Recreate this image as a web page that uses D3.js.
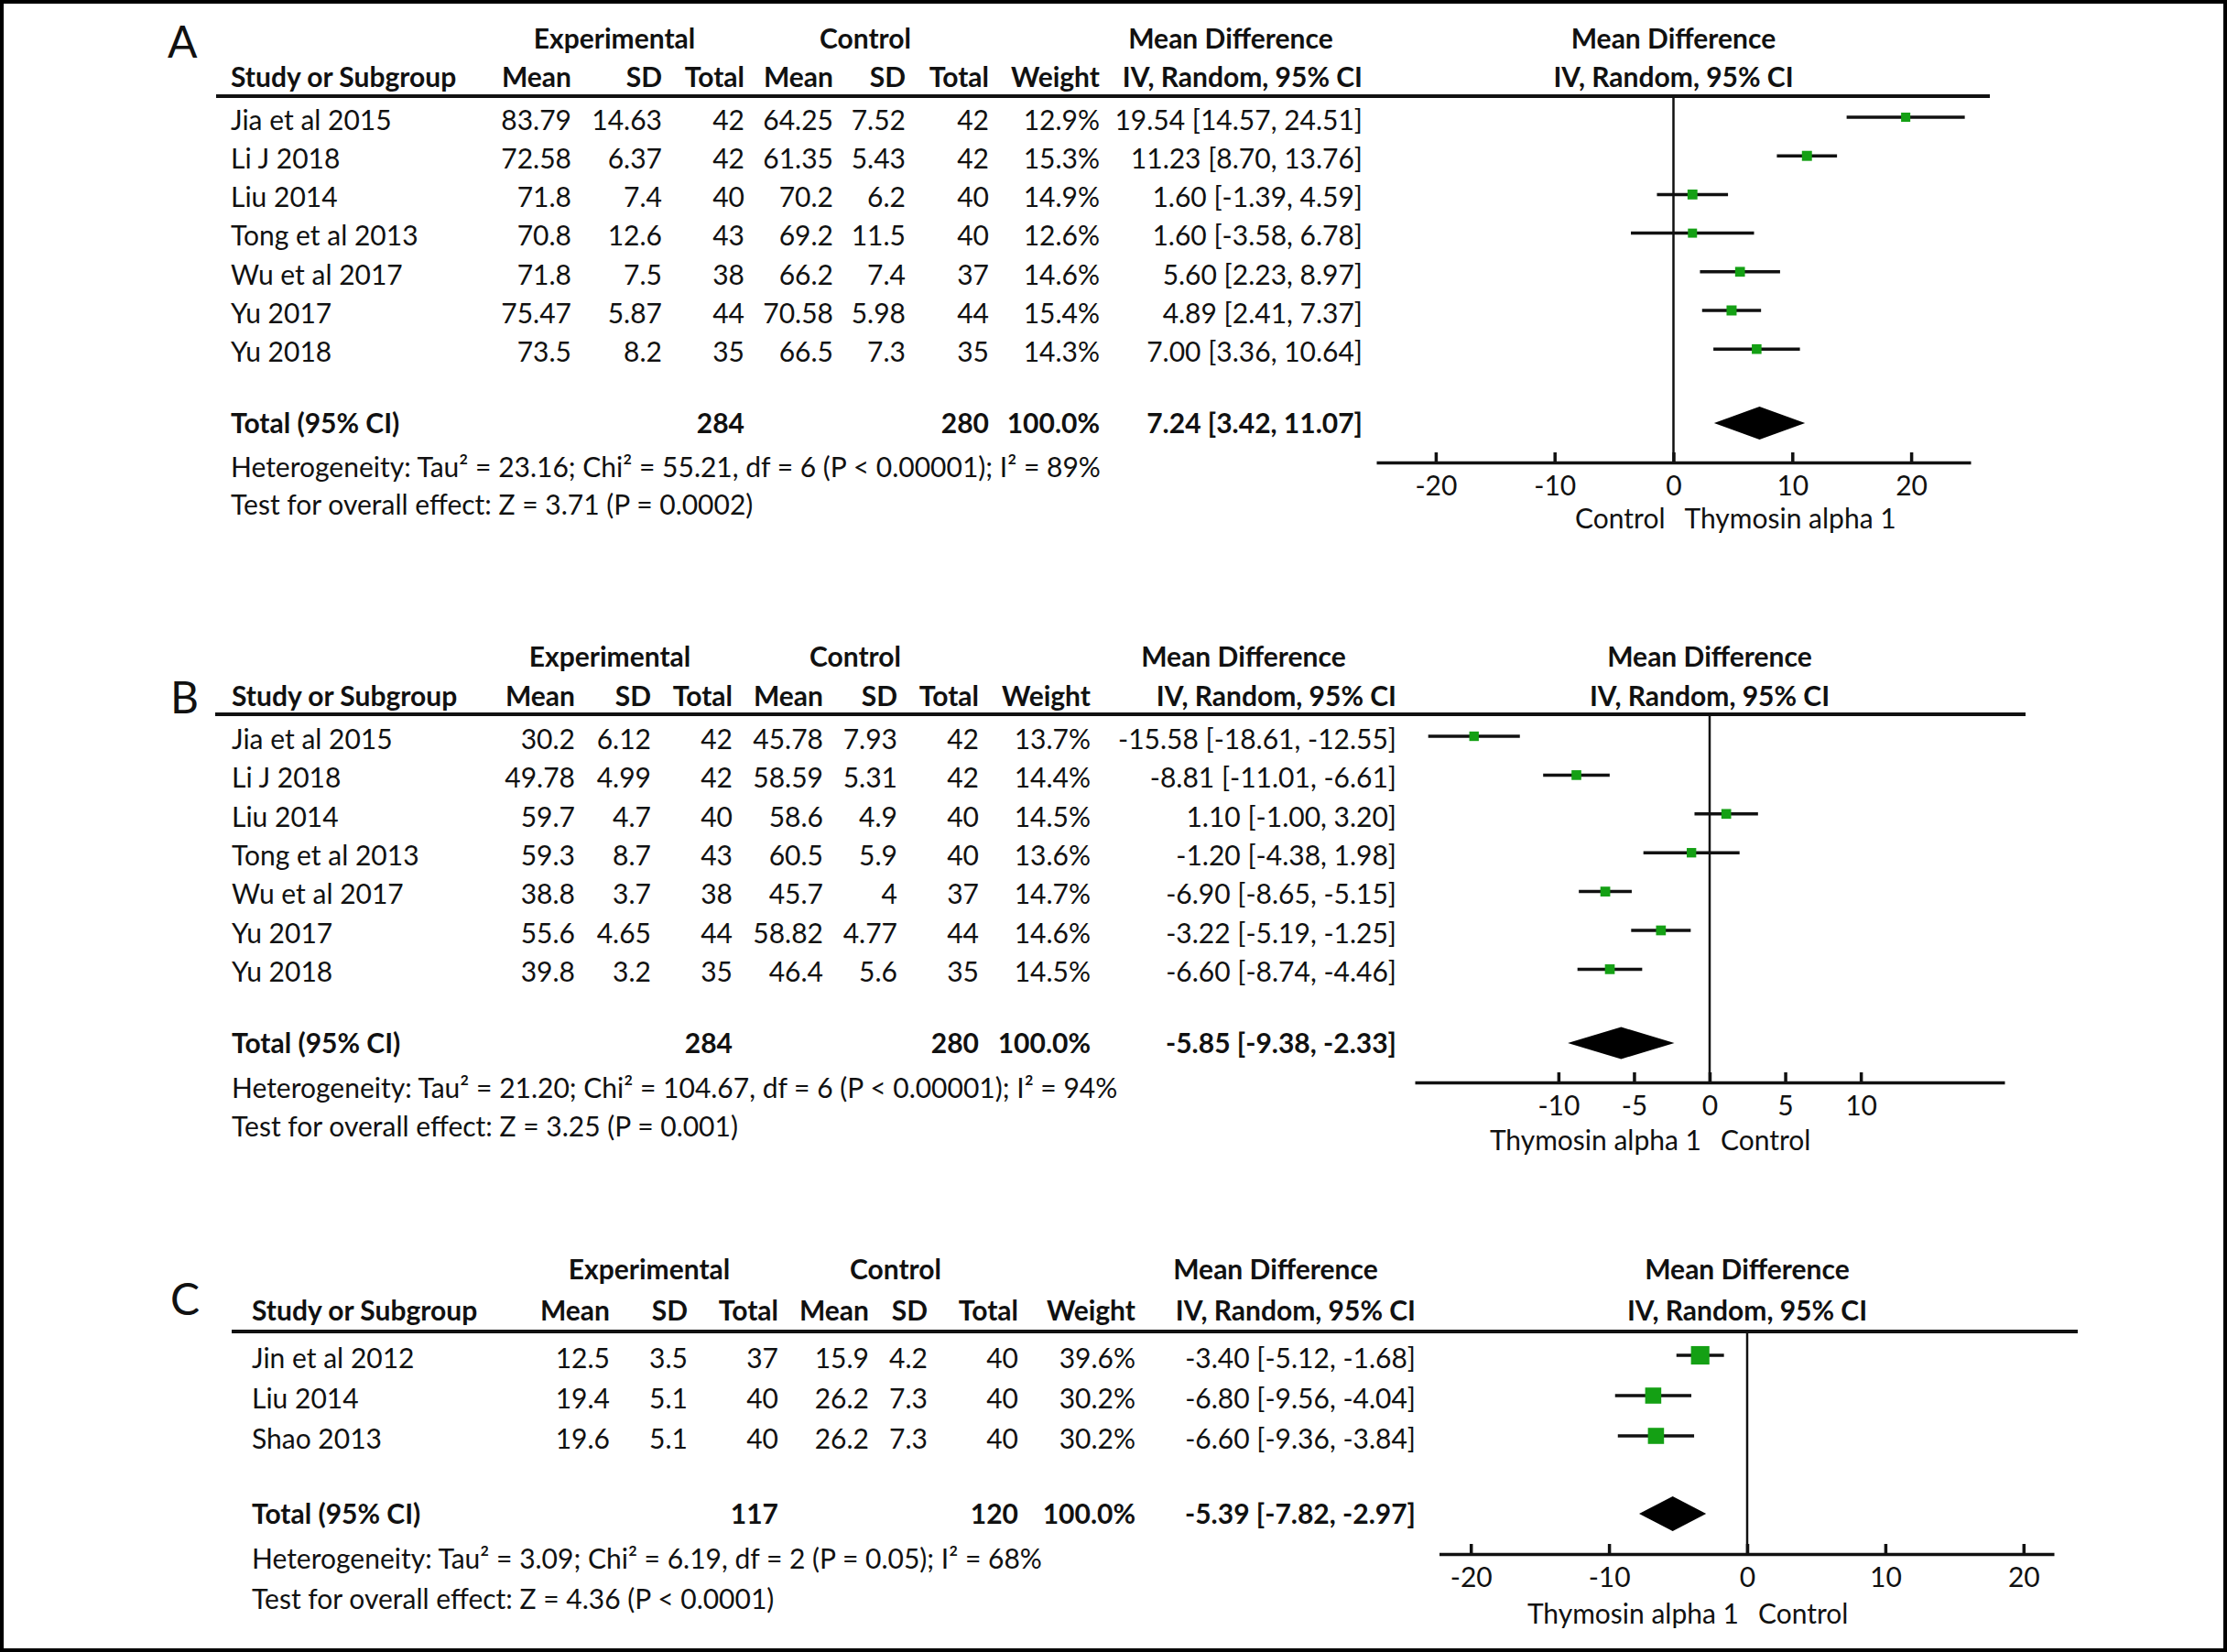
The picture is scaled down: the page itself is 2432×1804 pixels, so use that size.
<!DOCTYPE html>
<html>
<head>
<meta charset="utf-8">
<script src="https://cdn.jsdelivr.net/npm/d3@7"></script>
<style>
  body { margin: 0; background: #fff; }
  svg { display: block; }
  text { font-family: Lato, "Open Sans", sans-serif; fill: #111; }
  .bold { font-weight: bold; }
</style>
</head>
<body>
<svg id="chart"></svg>
<script>
// ---- panel A data
var studyA = ['Jia et al 2015', 'Li J 2018', 'Liu 2014', 'Tong et al 2013', 'Wu et al 2017', 'Yu 2017', 'Yu 2018']
var expMeanA = [83.79, 72.58, 71.8, 70.8, 71.8, 75.47, 73.5]
var expSdA = [14.63, 6.37, 7.4, 12.6, 7.5, 5.87, 8.2]
var expNA = [42, 42, 40, 43, 38, 44, 35]
var ctlMeanA = [64.25, 61.35, 70.2, 69.2, 66.2, 70.58, 66.5]
var ctlSdA = [7.52, 5.43, 6.2, 11.5, 7.4, 5.98, 7.3]
var ctlNA = [42, 42, 40, 40, 37, 44, 35]
var weightA = [12.9, 15.3, 14.9, 12.6, 14.6, 15.4, 14.3]
var mdA = [19.54, 11.23, 1.6, 1.6, 5.6, 4.89, 7.0]
var loA = [14.57, 8.7, -1.39, -3.58, 2.23, 2.41, 3.36]
var hiA = [24.51, 13.76, 4.59, 6.78, 8.97, 7.37, 10.64]
var pooledA = [7.24, 3.42, 11.07]
var totalNA = [284, 280]
var ticksA = [-20, -10, 0, 10, 20]
var hetA = 'Heterogeneity: Tau² = 23.16; Chi² = 55.21, df = 6 (P < 0.00001); I² = 89%'
var testA = 'Test for overall effect: Z = 3.71 (P = 0.0002)'
var favourA = ['Control', 'Thymosin alpha 1']

// ---- panel B data
var studyB = ['Jia et al 2015', 'Li J 2018', 'Liu 2014', 'Tong et al 2013', 'Wu et al 2017', 'Yu 2017', 'Yu 2018']
var expMeanB = [30.2, 49.78, 59.7, 59.3, 38.8, 55.6, 39.8]
var expSdB = [6.12, 4.99, 4.7, 8.7, 3.7, 4.65, 3.2]
var expNB = [42, 42, 40, 43, 38, 44, 35]
var ctlMeanB = [45.78, 58.59, 58.6, 60.5, 45.7, 58.82, 46.4]
var ctlSdB = [7.93, 5.31, 4.9, 5.9, 4, 4.77, 5.6]
var ctlNB = [42, 42, 40, 40, 37, 44, 35]
var weightB = [13.7, 14.4, 14.5, 13.6, 14.7, 14.6, 14.5]
var mdB = [-15.58, -8.81, 1.1, -1.2, -6.9, -3.22, -6.6]
var loB = [-18.61, -11.01, -1.0, -4.38, -8.65, -5.19, -8.74]
var hiB = [-12.55, -6.61, 3.2, 1.98, -5.15, -1.25, -4.46]
var pooledB = [-5.85, -9.38, -2.33]
var totalNB = [284, 280]
var ticksB = [-10, -5, 0, 5, 10]
var hetB = 'Heterogeneity: Tau² = 21.20; Chi² = 104.67, df = 6 (P < 0.00001); I² = 94%'
var testB = 'Test for overall effect: Z = 3.25 (P = 0.001)'
var favourB = ['Thymosin alpha 1', 'Control']

// ---- panel C data
var studyC = ['Jin et al 2012', 'Liu 2014', 'Shao 2013']
var expMeanC = [12.5, 19.4, 19.6]
var expSdC = [3.5, 5.1, 5.1]
var expNC = [37, 40, 40]
var ctlMeanC = [15.9, 26.2, 26.2]
var ctlSdC = [4.2, 7.3, 7.3]
var ctlNC = [40, 40, 40]
var weightC = [39.6, 30.2, 30.2]
var mdC = [-3.4, -6.8, -6.6]
var loC = [-5.12, -9.56, -9.36]
var hiC = [-1.68, -4.04, -3.84]
var pooledC = [-5.39, -7.82, -2.97]
var totalNC = [117, 120]
var ticksC = [-20, -10, 0, 10, 20]
var hetC = 'Heterogeneity: Tau² = 3.09; Chi² = 6.19, df = 2 (P = 0.05); I² = 68%'
var testC = 'Test for overall effect: Z = 4.36 (P < 0.0001)'
var favourC = ['Thymosin alpha 1', 'Control']

var W = 2432
var H = 1804
var FS = 30

var svg = d3.select('#chart').attr('width', W).attr('height', H)

// frame round the whole figure
svg.append('rect')
  .attr('x', 2).attr('y', 2).attr('width', W - 4).attr('height', H - 4)
  .attr('fill', 'none').attr('stroke', '#000').attr('stroke-width', 4)

function txt(g, x, y, s, anchor, bold) {
  return g.append('text')
    .attr('x', x).attr('y', y).attr('dy', '0.36em')
    .attr('text-anchor', anchor || 'start')
    .attr('class', bold ? 'bold' : null)
    .style('font-size', FS + 'px')
    .text(s)
}

function ci(m, l, h) {
  return m.toFixed(2) + ' [' + l.toFixed(2) + ', ' + h.toFixed(2) + ']'
}

function drawPanel(p, d) {
  var g = svg.append('g')

  // panel letter
  g.append('text').attr('x', p.label[0]).attr('y', p.label[1])
    .style('font-size', '48px').text(p.letter)

  // group headers
  txt(g, p.hdr[0], p.topY, 'Experimental', 'middle', true)
  txt(g, p.hdr[1], p.topY, 'Control', 'middle', true)
  txt(g, p.hdr[2], p.topY, 'Mean Difference', 'middle', true)

  var c = p.cols
  txt(g, c[0], p.colY, 'Study or Subgroup', 'start', true)
  var heads = ['Mean', 'SD', 'Total', 'Mean', 'SD', 'Total', 'Weight', 'IV, Random, 95% CI']
  heads.forEach(function(h, i) { txt(g, c[i + 1], p.colY, h, 'end', true) })

  // rule under header
  g.append('line')
    .attr('x1', p.rule[0]).attr('x2', p.rule[1])
    .attr('y1', p.ruleY).attr('y2', p.ruleY)
    .attr('stroke', '#111').attr('stroke-width', 4)

  var yRow = function(i) { return p.rowY + i * p.rowStep }

  d.study.forEach(function(s, i) {
    var y = yRow(i)
    txt(g, c[0], y, s)
    txt(g, c[1], y, String(d.expMean[i]), 'end')
    txt(g, c[2], y, String(d.expSd[i]), 'end')
    txt(g, c[3], y, String(d.expN[i]), 'end')
    txt(g, c[4], y, String(d.ctlMean[i]), 'end')
    txt(g, c[5], y, String(d.ctlSd[i]), 'end')
    txt(g, c[6], y, String(d.ctlN[i]), 'end')
    txt(g, c[7], y, d.weight[i].toFixed(1) + '%', 'end')
    txt(g, c[8], y, ci(d.md[i], d.lo[i], d.hi[i]), 'end')
  })

  txt(g, c[0], p.totalY, 'Total (95% CI)', 'start', true)
  txt(g, c[3], p.totalY, String(d.totalN[0]), 'end', true)
  txt(g, c[6], p.totalY, String(d.totalN[1]), 'end', true)
  txt(g, c[7], p.totalY, '100.0%', 'end', true)
  txt(g, c[8], p.totalY, ci(d.pooled[0], d.pooled[1], d.pooled[2]), 'end', true)

  txt(g, c[0], p.hetY, d.het)
  txt(g, c[0], p.testY, d.test)

  // forest plot
  var x = d3.scaleLinear().domain(p.domain).range(p.range)
  var x0 = x(0)

  txt(g, x0, p.topY, 'Mean Difference', 'middle', true)
  txt(g, x0, p.colY, 'IV, Random, 95% CI', 'middle', true)

  g.append('line')
    .attr('x1', x0).attr('x2', x0)
    .attr('y1', p.ruleY).attr('y2', p.axisY)
    .attr('stroke', '#111').attr('stroke-width', 2.5)

  var rows = g.selectAll('.study').data(d.study).enter().append('g')
  rows.append('line')
    .attr('x1', function(s, i) { return x(d.lo[i]) })
    .attr('x2', function(s, i) { return x(d.hi[i]) })
    .attr('y1', function(s, i) { return yRow(i) - 3 })
    .attr('y2', function(s, i) { return yRow(i) - 3 })
    .attr('stroke', '#111').attr('stroke-width', 3.5)
  rows.append('rect')
    .attr('x', function(s, i) { return x(d.md[i]) - p.box * Math.sqrt(d.weight[i]) / 2 })
    .attr('y', function(s, i) { return yRow(i) - 3 - p.box * Math.sqrt(d.weight[i]) / 2 })
    .attr('width', function(s, i) { return p.box * Math.sqrt(d.weight[i]) })
    .attr('height', function(s, i) { return p.box * Math.sqrt(d.weight[i]) })
    .attr('fill', '#14a014')

  var pd = d.pooled
  var hh = p.diamond / 2
  g.append('polygon')
    .attr('points', [
      [x(pd[1]), p.totalY], [x(pd[0]), p.totalY - hh],
      [x(pd[2]), p.totalY], [x(pd[0]), p.totalY + hh]
    ].join(' '))
    .attr('fill', '#000')

  var axis = d3.axisBottom(x)
    .tickValues(d.ticks)
    .tickSize(-11)
    .tickSizeOuter(0)
    .tickPadding(15)
    .tickFormat(function(v) { return String(v) })
  var ax = g.append('g')
    .attr('transform', 'translate(0,' + p.axisY + ')')
    .call(axis)
  ax.select('.domain').attr('stroke', '#111').attr('stroke-width', 3.5)
  ax.selectAll('.tick line').attr('stroke', '#111').attr('stroke-width', 3.5)
  ax.selectAll('.tick text')
    .style('font-size', FS + 'px').style('font-family', 'Lato, sans-serif').attr('fill', '#111')

  txt(g, x0 - 9, p.favY, d.favour[0], 'end')
  txt(g, x0 + 12, p.favY, d.favour[1], 'start')
}

drawPanel({
  letter: 'A', label: [183, 63],
  topY: 42, colY: 84, ruleY: 105, rule: [236, 2173],
  rowY: 131, rowStep: 42.2, totalY: 462, hetY: 510, testY: 551,
  hdr: [671, 945, 1344],
  cols: [252, 624, 723, 813, 910, 989, 1080, 1201, 1488],
  domain: [-25, 25], range: [1503, 2152], axisY: 505, favY: 566,
  box: 2.8, diamond: 36
}, {
  study: studyA, expMean: expMeanA, expSd: expSdA, expN: expNA,
  ctlMean: ctlMeanA, ctlSd: ctlSdA, ctlN: ctlNA, weight: weightA,
  md: mdA, lo: loA, hi: hiA, pooled: pooledA, totalN: totalNA,
  ticks: ticksA, het: hetA, test: testA, favour: favourA
})

drawPanel({
  letter: 'B', label: [186, 779],
  topY: 717, colY: 760, ruleY: 780, rule: [235, 2212],
  rowY: 807, rowStep: 42.4, totalY: 1139, hetY: 1188, testY: 1230,
  hdr: [666, 934, 1358],
  cols: [253, 628, 711, 800, 899, 980, 1069, 1191, 1525],
  domain: [-19.5, 19.5], range: [1545, 2189], axisY: 1182, favY: 1245,
  box: 2.8, diamond: 35
}, {
  study: studyB, expMean: expMeanB, expSd: expSdB, expN: expNB,
  ctlMean: ctlMeanB, ctlSd: ctlSdB, ctlN: ctlNB, weight: weightB,
  md: mdB, lo: loB, hi: hiB, pooled: pooledB, totalN: totalNB,
  ticks: ticksB, het: hetB, test: testB, favour: favourB
})

drawPanel({
  letter: 'C', label: [186, 1436],
  topY: 1386, colY: 1431, ruleY: 1454, rule: [253, 2269],
  rowY: 1483, rowStep: 44, totalY: 1653, hetY: 1702, testY: 1746,
  hdr: [709, 978, 1393],
  cols: [275, 666, 751, 850, 949, 1013, 1112, 1240, 1546],
  domain: [-22.3, 22.2], range: [1571.5, 2243], axisY: 1697, favY: 1762,
  box: 3.2, diamond: 38
}, {
  study: studyC, expMean: expMeanC, expSd: expSdC, expN: expNC,
  ctlMean: ctlMeanC, ctlSd: ctlSdC, ctlN: ctlNC, weight: weightC,
  md: mdC, lo: loC, hi: hiC, pooled: pooledC, totalN: totalNC,
  ticks: ticksC, het: hetC, test: testC, favour: favourC
})
</script>
</body>
</html>
